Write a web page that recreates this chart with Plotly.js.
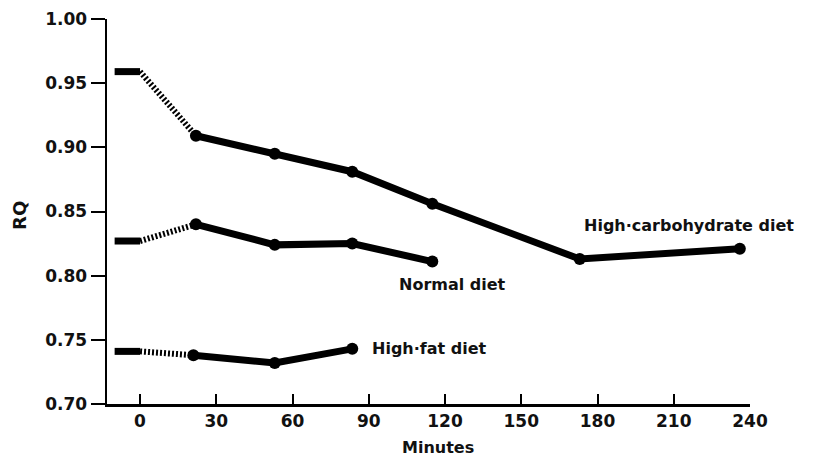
<!DOCTYPE html>
<html>
<head>
<meta charset="utf-8">
<script src="https://cdn.plot.ly/plotly-3.0.1.min.js"></script>
<style>html,body{margin:0;padding:0;background:#fff;}#chart{width:814px;height:460px;}</style>
</head>
<body>
<div id="chart"></div>
<script>
// Data
const baselineX = [-10, 0];
const carbBaseline = 0.959;
const carbMinutes = [22, 53, 83.5, 115, 173, 236];
const carbRQ = [0.909, 0.895, 0.881, 0.856, 0.813, 0.821];

const normalBaseline = 0.827;
const normalMinutes = [22, 53, 83.5, 115];
const normalRQ = [0.840, 0.824, 0.825, 0.811];

const fatBaseline = 0.741;
const fatMinutes = [21, 53, 83.5];
const fatRQ = [0.738, 0.732, 0.743];

const xTicks = [0, 30, 60, 90, 120, 150, 180, 210, 240];
const yTicks = [0.70, 0.75, 0.80, 0.85, 0.90, 0.95, 1.00];
const yTickText = ["0.70", "0.75", "0.80", "0.85", "0.90", "0.95", "1.00"];

const labels = [
  {text: "High\u00b7carbohydrate diet", x: 174, y: 0.839, anchor: "left"},
  {text: "Normal diet", x: 123, y: 0.7935, anchor: "center"},
  {text: "High\u00b7fat diet", x: 90.5, y: 0.743, anchor: "left"}
];

const series = [
  {b: carbBaseline, x: carbMinutes, y: carbRQ},
  {b: normalBaseline, x: normalMinutes, y: normalRQ},
  {b: fatBaseline, x: fatMinutes, y: fatRQ}
];

const traces = [];
series.forEach(s => {
  traces.push({x: baselineX, y: [s.b, s.b], mode: "lines", line: {color: "#000", width: 7}, hoverinfo: "skip"});
  traces.push({x: [0, s.x[0]], y: [s.b, s.y[0]], mode: "lines", line: {color: "#000", width: 6, dash: "2px,2px"}, hoverinfo: "skip"});
  traces.push({x: s.x, y: s.y, mode: "lines+markers", line: {color: "#000", width: 7}, marker: {color: "#000", size: 12}});
});

const fam = "DejaVu Sans, sans-serif";
const txt = {family: fam, size: 16, color: "#111", weight: "bold"};

const annotations = labels.map(l => ({
  text: l.text, x: l.x, y: l.y, xref: "x", yref: "y", showarrow: false,
  xanchor: l.anchor, yanchor: "middle", font: txt
}));
annotations.push({text: "Minutes", xref: "paper", yref: "paper", x: 0.515, y: -0.114, showarrow: false, xanchor: "center", yanchor: "middle", font: txt});
annotations.push({text: "RQ", xref: "paper", yref: "paper", x: -0.136, y: 0.49, showarrow: false, textangle: -90, xanchor: "center", yanchor: "middle", font: {family: fam, size: 18, color: "#111", weight: "bold"}});

const tickFont = {family: fam, size: 17, color: "#111", weight: "bold"};

const layout = {
  width: 814, height: 460,
  margin: {l: 107, r: 64, t: 19, b: 56},
  paper_bgcolor: "#fff", plot_bgcolor: "#fff",
  showlegend: false,
  font: {family: fam, size: 16, color: "#111"},
  xaxis: {
    range: [-13, 240], tickvals: xTicks, ticktext: xTicks.map(String),
    ticks: "inside", ticklen: 10, tickwidth: 2, tickcolor: "#000",
    showline: true, linecolor: "#000", linewidth: 2.5,
    showgrid: false, zeroline: false,
    tickfont: tickFont,
    title: {text: ""}
  },
  yaxis: {
    range: [0.70, 1.00], tickvals: yTicks, ticktext: yTickText,
    ticks: "outside", ticklen: 14, tickwidth: 2, tickcolor: "#000",
    showline: true, linecolor: "#000", linewidth: 2.5,
    showgrid: false, zeroline: false,
    tickfont: tickFont,
    title: {text: ""}
  },
  annotations: annotations
};

Plotly.newPlot("chart", traces, layout, {displayModeBar: false, staticPlot: true});
</script>
</body>
</html>
